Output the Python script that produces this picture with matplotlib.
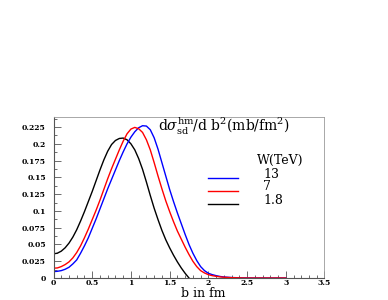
import numpy as np
import matplotlib
matplotlib.use("Agg")
import matplotlib.pyplot as plt
from matplotlib.ticker import MultipleLocator

plt.rcParams['font.family'] = ['DejaVu Serif']
plt.rcParams['mathtext.fontset'] = 'dejavuserif'

# impact parameter b (fm)
b = [0.00, 0.05, 0.10, 0.15, 0.20, 0.25, 0.30, 0.35, 0.40, 0.45, 0.50, 0.55,
     0.60, 0.65, 0.70, 0.75, 0.80, 0.85, 0.90, 0.95, 1.00, 1.05, 1.10, 1.15,
     1.20, 1.25, 1.30, 1.35, 1.40, 1.45, 1.50, 1.55, 1.60, 1.65, 1.70, 1.75,
     1.80, 1.85, 1.90, 1.95, 2.00, 2.05, 2.10, 2.15, 2.20, 2.3, 2.4, 2.5,
     2.6, 2.7, 2.8, 2.9, 3.0]

# W = 13 TeV
y13 = [0.0095, 0.010, 0.011, 0.013, 0.016, 0.021, 0.027, 0.037, 0.048, 0.060,
       0.074, 0.088, 0.103, 0.118, 0.133, 0.147, 0.161, 0.175, 0.188, 0.200,
       0.210, 0.218, 0.224, 0.227, 0.2265, 0.221, 0.209, 0.192, 0.172, 0.152,
       0.132, 0.114, 0.097, 0.081, 0.065, 0.050, 0.037, 0.026, 0.017, 0.011,
       0.007, 0.005, 0.0035, 0.0023, 0.0015, 0.0007, 0.0003, 0.0001,
       0.0, 0.0, 0.0, 0.0, 0.0]
# W = 7 TeV
y7 = [0.0146, 0.015, 0.017, 0.020, 0.024, 0.030, 0.038, 0.048, 0.060, 0.073,
      0.087, 0.101, 0.116, 0.132, 0.148, 0.163, 0.177, 0.191, 0.204, 0.215,
      0.222, 0.2245, 0.2225, 0.217, 0.206, 0.191, 0.172, 0.152, 0.133, 0.115,
      0.099, 0.084, 0.070, 0.058, 0.046, 0.035, 0.025, 0.017, 0.011, 0.0075,
      0.005, 0.0035, 0.0025, 0.0017, 0.0011, 0.0005, 0.0002, 0.0,
      0.0, 0.0, 0.0, 0.0, 0.0]
# W = 1.8 TeV
b18 = [0.00, 0.05, 0.10, 0.15, 0.20, 0.25, 0.30, 0.35, 0.40, 0.45, 0.50, 0.55,
       0.60, 0.65, 0.70, 0.75, 0.80, 0.85, 0.90, 0.95, 1.00, 1.05, 1.10, 1.15,
       1.20, 1.25, 1.30, 1.35, 1.40, 1.45, 1.50, 1.55, 1.60, 1.65, 1.70, 1.75,
       1.80]
y18 = [0.036, 0.037, 0.040, 0.045, 0.052, 0.061, 0.072, 0.085, 0.099, 0.114,
       0.129, 0.145, 0.161, 0.176, 0.189, 0.199, 0.205, 0.208, 0.2086, 0.206,
       0.200, 0.191, 0.178, 0.162, 0.143, 0.123, 0.104, 0.087, 0.071, 0.057,
       0.045, 0.034, 0.024, 0.015, 0.007, 0.000, -0.007]

legend_labels = ['13', '7', '1.8']
colors = ['#0000ff', '#ff0000', '#000000']

fig = plt.figure(figsize=(3.88, 3.0), dpi=100)
ax = fig.add_axes([53.5 / 388, 22 / 300, 271 / 388, 161 / 300])

ax.plot(b18, y18, color=colors[2], lw=1.0)
ax.plot(b, y13, color=colors[0], lw=1.0)
ax.plot(b, y7, color=colors[1], lw=1.0)

ax.set_xlim(0, 3.5)
ax.set_ylim(0, 0.24)

ax.xaxis.set_major_locator(MultipleLocator(0.5))
ax.xaxis.set_minor_locator(MultipleLocator(0.1))
ax.yaxis.set_major_locator(MultipleLocator(0.025))
ax.yaxis.set_minor_locator(MultipleLocator(0.0125))
ax.xaxis.set_major_formatter(plt.FuncFormatter(lambda v, p: '%g' % v))
ax.yaxis.set_major_formatter(plt.FuncFormatter(lambda v, p: '%g' % round(v, 4)))
ax.tick_params(which='both', direction='in', top=False, right=False,
               color='#555555', width=0.6, labelsize=5.5)
ax.tick_params(which='major', length=5)
ax.tick_params(which='minor', length=2.5)
ax.tick_params(axis='y', which='major', pad=5.5)
ax.tick_params(axis='x', which='major', pad=0.8)
for lab in ax.get_xticklabels() + ax.get_yticklabels():
    lab.set_fontweight('bold')

for s in ['top', 'right']:
    ax.spines[s].set_color('#9a9a9a')
    ax.spines[s].set_linewidth(0.6)
for s in ['left', 'bottom']:
    ax.spines[s].set_color('#555555')
    ax.spines[s].set_linewidth(0.8)

fig.text(203 / 388, 1 - 293.5 / 300, 'b in fm', ha='center', va='center',
         fontsize=9)
fig.text(158 / 388, 1 - 130.5 / 300,
         r'd$\sigma^{\mathrm{hm}}_{\mathrm{sd}}$/d b$^2$(mb/fm$^2$)',
         ha='left', va='baseline', fontsize=10)

# legend
fig.text(257 / 388, 1 - 160.5 / 300, 'W(TeV)', ha='left', va='center', fontsize=9)
leg_y = [178, 191, 204]
for lab, c, yy in zip(legend_labels, colors, leg_y):
    fig.add_artist(plt.Line2D([208 / 388, 238 / 388], [1 - yy / 300, 1 - yy / 300],
                              color=c, lw=1.0, transform=fig.transFigure))
    fig.text(263 / 388, 1 - (yy - 4) / 300, lab, ha='left', va='center', fontsize=9)

fig.savefig('out.png', dpi=100)
